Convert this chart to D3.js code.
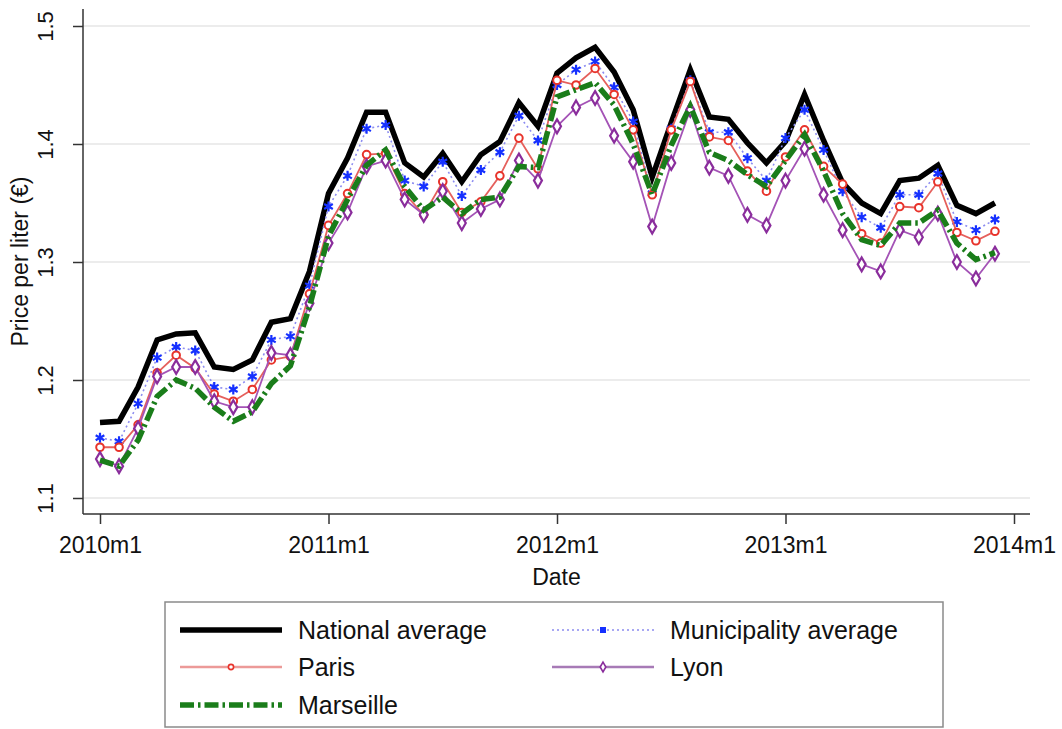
<!DOCTYPE html>
<html>
<head>
<meta charset="utf-8">
<script src="https://cdn.jsdelivr.net/npm/d3@7"></script>
<style>
  html, body { margin: 0; padding: 0; background: #fff; }
  svg { display: block; font-family: "Liberation Sans", Arial, Helvetica, sans-serif; }
</style>
</head>
<body>
<svg id="chart" width="1062" height="729"></svg>
<script>
// Monthly fuel prices, 2010m1 .. 2013m12 (euro per liter)
const months = d3.range(48);

const national = [1.164,1.165,1.194,1.234,1.239,1.240,1.211,1.209,1.217,1.249,1.252,1.292,
                  1.358,1.388,1.427,1.427,1.384,1.372,1.392,1.368,1.391,1.402,1.435,1.415,
                  1.460,1.473,1.482,1.461,1.429,1.372,1.418,1.463,1.423,1.421,1.401,1.384,
                  1.402,1.442,1.403,1.367,1.350,1.341,1.369,1.371,1.382,1.348,1.341,1.350];

const municipality = [1.151,1.148,1.180,1.219,1.228,1.225,1.194,1.192,1.203,1.234,1.237,1.280,
                      1.347,1.373,1.413,1.416,1.369,1.364,1.385,1.356,1.378,1.393,1.424,1.403,
                      1.450,1.463,1.470,1.448,1.419,1.358,1.413,1.454,1.410,1.410,1.388,1.369,
                      1.405,1.429,1.395,1.360,1.338,1.329,1.357,1.357,1.375,1.334,1.327,1.336];

const paris = [1.143,1.143,1.162,1.206,1.221,1.210,1.188,1.182,1.192,1.217,1.220,1.273,
               1.331,1.358,1.391,1.392,1.358,1.340,1.368,1.342,1.351,1.373,1.405,1.379,
               1.454,1.450,1.464,1.442,1.412,1.357,1.412,1.453,1.406,1.403,1.377,1.360,
               1.389,1.412,1.381,1.366,1.324,1.316,1.347,1.346,1.368,1.325,1.318,1.326];

const lyon = [1.133,1.127,1.159,1.203,1.211,1.211,1.182,1.177,1.177,1.223,1.221,1.265,
              1.316,1.342,1.381,1.386,1.353,1.340,1.360,1.333,1.345,1.353,1.386,1.369,
              1.415,1.431,1.439,1.407,1.385,1.330,1.384,1.429,1.380,1.373,1.340,1.331,
              1.369,1.396,1.357,1.327,1.298,1.292,1.327,1.321,1.341,1.300,1.286,1.307];

const marseille = [1.132,1.127,1.149,1.186,1.200,1.193,1.177,1.165,1.173,1.197,1.212,1.262,
                   1.322,1.353,1.382,1.395,1.364,1.344,1.355,1.341,1.353,1.355,1.381,1.380,
                   1.440,1.446,1.452,1.433,1.400,1.357,1.399,1.432,1.393,1.386,1.374,1.364,
                   1.386,1.408,1.377,1.341,1.319,1.314,1.333,1.333,1.344,1.316,1.302,1.308];

const xTickValues = [0, 12, 24, 36, 48];
const xTickLabels = ["2010m1", "2011m1", "2012m1", "2013m1", "2014m1"];
const yTickValues = [1.1, 1.2, 1.3, 1.4, 1.5];
const yTickLabels = ["1.1", "1.2", "1.3", "1.4", "1.5"];

const seriesNames = ["National average", "Municipality average", "Paris", "Lyon", "Marseille"];

// ---- layout ----
const svg = d3.select("#chart");
const plot = { left: 83, right: 1030, top: 9, bottom: 514 };

const x = d3.scaleLinear().domain([0, 48]).range([100, 1014]);
const y = d3.scaleLinear().domain([1.1, 1.5]).range([498, 26]);

// grid lines
svg.append("g")
  .selectAll("line")
  .data(yTickValues)
  .join("line")
  .attr("x1", plot.left).attr("x2", plot.right)
  .attr("y1", d => y(d)).attr("y2", d => y(d))
  .attr("stroke", "#e6e6e6").attr("stroke-width", 1.5);

// axis frame lines
svg.append("line")
  .attr("x1", plot.left).attr("x2", plot.left)
  .attr("y1", plot.top).attr("y2", plot.bottom)
  .attr("stroke", "#333").attr("stroke-width", 1.5);
svg.append("line")
  .attr("x1", plot.left).attr("x2", plot.right)
  .attr("y1", plot.bottom).attr("y2", plot.bottom)
  .attr("stroke", "#333").attr("stroke-width", 1.5);

// y axis
const yAxis = svg.append("g")
  .attr("transform", `translate(${plot.left},0)`)
  .call(d3.axisLeft(y).tickValues(yTickValues).tickFormat((d, i) => yTickLabels[i]).tickSize(10));
yAxis.select(".domain").remove();
yAxis.selectAll(".tick line").attr("stroke", "#333").attr("stroke-width", 1.5);
yAxis.selectAll(".tick text")
  .attr("transform", "rotate(-90)")
  .attr("x", 0).attr("y", -30).attr("dy", 0)
  .style("text-anchor", "middle")
  .style("font-size", "22px")
  .style("font-family", "'Liberation Sans', Arial, sans-serif")
  .attr("fill", "#111");

// x axis
const xAxis = svg.append("g")
  .attr("transform", `translate(0,${plot.bottom})`)
  .call(d3.axisBottom(x).tickValues(xTickValues).tickFormat((d, i) => xTickLabels[i]).tickSize(10));
xAxis.select(".domain").remove();
xAxis.selectAll(".tick line").attr("stroke", "#333").attr("stroke-width", 1.5);
xAxis.selectAll(".tick text")
  .attr("y", 39).attr("dy", 0)
  .style("font-size", "23px")
  .style("font-family", "'Liberation Sans', Arial, sans-serif")
  .attr("fill", "#111");

// axis titles
svg.append("text")
  .attr("x", (plot.left + plot.right) / 2).attr("y", 585)
  .attr("text-anchor", "middle")
  .style("font-size", "23px").attr("fill", "#111")
  .text("Date");
svg.append("text")
  .attr("transform", `translate(28,${(plot.top + plot.bottom) / 2}) rotate(-90)`)
  .attr("text-anchor", "middle")
  .style("font-size", "23px").attr("fill", "#111")
  .text("Price per liter (€)");

// ---- series ----
const line = d3.line().x((d, i) => x(months[i])).y(d => y(d));
const g = svg.append("g");

const styles = {
  national:     { color: "#000000", width: 5.5, dash: null },
  municipality: { color: "#8c8cf0", width: 1.6, dash: "2,3" },
  paris:        { color: "#e5605c", width: 1.8, dash: null },
  lyon:         { color: "#a453b6", width: 1.8, dash: null },
  marseille:    { color: "#1a7d1a", width: 5.5, dash: "14,4,2.5,4" }
};

function drawLine(values, st) {
  g.append("path")
    .datum(values)
    .attr("d", line)
    .attr("fill", "none")
    .attr("stroke", st.color)
    .attr("stroke-width", st.width)
    .attr("stroke-dasharray", st.dash)
    .attr("stroke-linejoin", "miter");
}

drawLine(national, styles.national);
drawLine(municipality, styles.municipality);
g.append("g").selectAll("path")
  .data(municipality)
  .join("path")
  .attr("transform", (d, i) => `translate(${x(months[i])},${y(d)})`)
  .attr("d", d3.symbol(d3.symbolAsterisk, 70))
  .attr("fill", "none").attr("stroke", "#1530ff").attr("stroke-width", 2.2);

drawLine(paris, styles.paris);
g.append("g").selectAll("circle")
  .data(paris)
  .join("circle")
  .attr("cx", (d, i) => x(months[i])).attr("cy", d => y(d))
  .attr("r", 3.8)
  .attr("fill", "#fff").attr("stroke", "#e8332b").attr("stroke-width", 2);

drawLine(lyon, styles.lyon);
g.append("g").selectAll("path")
  .data(lyon)
  .join("path")
  .attr("transform", (d, i) => `translate(${x(months[i])},${y(d)})`)
  .attr("d", d3.symbol(d3.symbolDiamond, 55))
  .attr("fill", "#fff").attr("stroke", "#8a2d9c").attr("stroke-width", 2.2);

drawLine(marseille, styles.marseille);

// ---- legend ----
const legend = svg.append("g");
legend.append("rect")
  .attr("x", 165).attr("y", 602).attr("width", 778).attr("height", 125)
  .attr("fill", "#fff").attr("stroke", "#8a8a8a").attr("stroke-width", 1.5);

const legendItems = [
  { name: seriesNames[0], key: "national",     col: 0, row: 0, marker: null },
  { name: seriesNames[1], key: "municipality", col: 1, row: 0, marker: "square" },
  { name: seriesNames[2], key: "paris",        col: 0, row: 1, marker: "circle" },
  { name: seriesNames[3], key: "lyon",         col: 1, row: 1, marker: "diamond" },
  { name: seriesNames[4], key: "marseille",    col: 0, row: 2, marker: null }
];
const colX = [180, 552];
const rowY = [630, 667, 705];
const sampleLen = 102;

legendItems.forEach(it => {
  const st = styles[it.key];
  const x0 = colX[it.col], yy = rowY[it.row];
  legend.append("line")
    .attr("x1", x0).attr("x2", x0 + sampleLen)
    .attr("y1", yy).attr("y2", yy)
    .attr("stroke", it.key === "paris" ? "#ec9a98" : it.key === "lyon" ? "#a77ab6" : st.color)
    .attr("stroke-width", it.key === "paris" || it.key === "lyon" ? 2.5 : st.width)
    .attr("stroke-dasharray", st.dash);
  const mx = x0 + sampleLen / 2;
  if (it.marker === "circle") {
    legend.append("circle").attr("cx", mx).attr("cy", yy).attr("r", 2.6)
      .attr("fill", "#fff").attr("stroke", "#e8332b").attr("stroke-width", 1.6);
  } else if (it.marker === "diamond") {
    legend.append("path").attr("transform", `translate(${mx},${yy})`)
      .attr("d", d3.symbol(d3.symbolDiamond, 28))
      .attr("fill", "#fff").attr("stroke", "#8a2d9c").attr("stroke-width", 1.6);
  } else if (it.marker === "square") {
    legend.append("rect").attr("x", mx - 3).attr("y", yy - 3).attr("width", 6).attr("height", 6)
      .attr("fill", "#1530ff");
  }
  legend.append("text")
    .attr("x", x0 + sampleLen + 16).attr("y", yy + 9)
    .style("font-size", "25px").attr("fill", "#111")
    .text(it.name);
});
</script>
</body>
</html>
